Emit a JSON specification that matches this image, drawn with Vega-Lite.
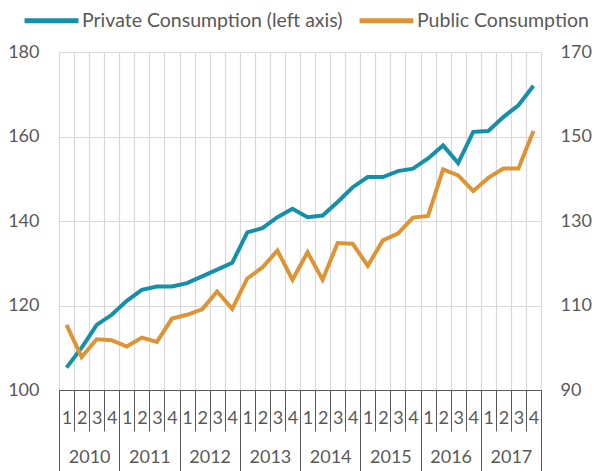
{
  "$schema": "https://vega.github.io/schema/vega-lite/v6.json",
  "width": 482,
  "height": 338,
  "autosize": {"type": "none"},
  "padding": {"left": 59, "top": 52, "right": 55, "bottom": 81},
  "background": "white",
  "config": {
    "font": "Lato",
    "view": {"stroke": null},
    "axis": {"labelColor": "#595959", "labelFontSize": 18, "labelFont": "Lato", "gridColor": "#d9d9d9", "gridWidth": 1.2, "titleFontSize": 0},
    "legend": {"labelColor": "#595959", "labelFontSize": 19.5, "labelFont": "Lato", "labelLimit": 500}
  },
  "data": {
    "values": [
      {"q": "2010 1", "year": "2010", "private": 105.3, "public": 105.4},
      {"q": "2010 2", "year": "2010", "private": 110.0, "public": 97.8},
      {"q": "2010 3", "year": "2010", "private": 115.4, "public": 102.0},
      {"q": "2010 4", "year": "2010", "private": 117.8, "public": 101.8},
      {"q": "2011 1", "year": "2011", "private": 121.1, "public": 100.3},
      {"q": "2011 2", "year": "2011", "private": 123.7, "public": 102.4},
      {"q": "2011 3", "year": "2011", "private": 124.5, "public": 101.4},
      {"q": "2011 4", "year": "2011", "private": 124.5, "public": 106.9},
      {"q": "2012 1", "year": "2012", "private": 125.3, "public": 107.8},
      {"q": "2012 2", "year": "2012", "private": 126.9, "public": 109.1},
      {"q": "2012 3", "year": "2012", "private": 128.5, "public": 113.3},
      {"q": "2012 4", "year": "2012", "private": 130.1, "public": 109.2},
      {"q": "2013 1", "year": "2013", "private": 137.3, "public": 116.4},
      {"q": "2013 2", "year": "2013", "private": 138.3, "public": 119.0},
      {"q": "2013 3", "year": "2013", "private": 140.9, "public": 123.0},
      {"q": "2013 4", "year": "2013", "private": 142.9, "public": 116.1},
      {"q": "2014 1", "year": "2014", "private": 140.9, "public": 122.6},
      {"q": "2014 2", "year": "2014", "private": 141.3, "public": 116.1},
      {"q": "2014 3", "year": "2014", "private": 144.5, "public": 124.8},
      {"q": "2014 4", "year": "2014", "private": 148.0, "public": 124.6},
      {"q": "2015 1", "year": "2015", "private": 150.4, "public": 119.4},
      {"q": "2015 2", "year": "2015", "private": 150.4, "public": 125.4},
      {"q": "2015 3", "year": "2015", "private": 151.8, "public": 127.0},
      {"q": "2015 4", "year": "2015", "private": 152.4, "public": 130.8},
      {"q": "2016 1", "year": "2016", "private": 154.8, "public": 131.2},
      {"q": "2016 2", "year": "2016", "private": 157.9, "public": 142.2},
      {"q": "2016 3", "year": "2016", "private": 153.7, "public": 140.8},
      {"q": "2016 4", "year": "2016", "private": 161.1, "public": 137.1},
      {"q": "2017 1", "year": "2017", "private": 161.3, "public": 140.2},
      {"q": "2017 2", "year": "2017", "private": 164.6, "public": 142.4},
      {"q": "2017 3", "year": "2017", "private": 167.4, "public": 142.4},
      {"q": "2017 4", "year": "2017", "private": 172.0, "public": 151.3}
    ]
  },
  "layer": [
    {
      "mark": {"type": "line", "strokeWidth": 4},
      "encoding": {
        "x": {
          "field": "q", "type": "ordinal", "title": null,
          "scale": {"type": "band", "paddingInner": 0, "paddingOuter": 0},
          "axis": {
            "labelExpr": "substring(datum.label, 5)", "labelAngle": 0,
            "tickBand": "extent", "grid": true, "tickSize": 41, "labelPadding": -22,
            "domainColor": "#595959", "tickColor": "#595959", "domainWidth": 1.2, "tickWidth": 1,
            "labelOverlap": false, "labelFlush": false, "labelBound": false
          }
        },
        "y": {
          "field": "private", "type": "quantitative", "title": null,
          "scale": {"domain": [100, 180], "nice": false, "zero": false},
          "axis": {"values": [100, 120, 140, 160, 180], "grid": true, "ticks": false, "domain": false, "labelPadding": 20}
        },
        "color": {
          "datum": "Private Consumption (left axis)",
          "scale": {"domain": ["Private Consumption (left axis)", "Public Consumption"], "range": ["#1590ab", "#de9434"]},
          "legend": {
            "title": null, "orient": "none", "direction": "horizontal", "legendX": -37, "legendY": -61,
            "symbolType": "stroke", "symbolSize": 2900, "symbolStrokeWidth": 5, "labelOffset": 1, "columnPadding": 6
          }
        }
      }
    },
    {
      "mark": {"type": "line", "strokeWidth": 4},
      "encoding": {
        "x": {
          "field": "q", "type": "ordinal", "title": null,
          "scale": {"type": "band", "paddingInner": 0, "paddingOuter": 0},
          "axis": null
        },
        "y": {
          "field": "public", "type": "quantitative", "title": null,
          "scale": {"domain": [90, 170], "nice": false, "zero": false},
          "axis": {"orient": "right", "values": [90, 110, 130, 150, 170], "grid": false, "ticks": false, "domain": false, "labelPadding": 19}
        },
        "color": {"datum": "Public Consumption"}
      }
    },
    {
      "mark": {"type": "point", "opacity": 0},
      "encoding": {
        "x": {
          "field": "year", "type": "ordinal", "title": null,
          "scale": {"type": "band", "paddingInner": 0, "paddingOuter": 0},
          "axis": {
            "orient": "bottom", "labelAngle": 0, "tickBand": "extent", "grid": false, "domain": false,
            "tickSize": 81, "labelPadding": -23, "tickColor": "#595959", "tickWidth": 1,
            "labelOverlap": false, "labelFlush": false, "labelBound": false
          }
        }
      }
    }
  ],
  "resolve": {"scale": {"x": "independent", "y": "independent"}, "axis": {"x": "independent", "y": "independent"}}
}
